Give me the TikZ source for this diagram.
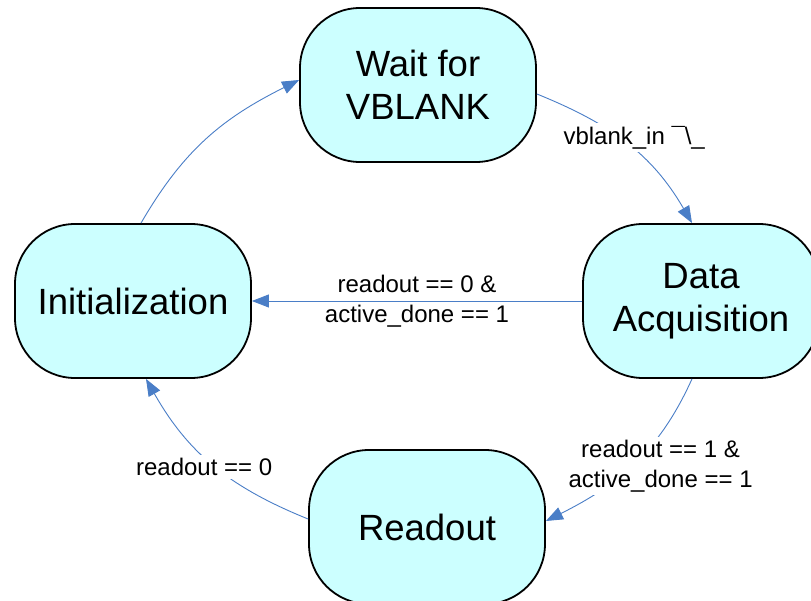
\documentclass[tikz,border=0pt]{standalone}
\usepackage{fontspec}
\setmainfont{Liberation Sans}
\usetikzlibrary{arrows.meta,calc}
\definecolor{statefill}{RGB}{204,255,255}
\definecolor{edgeblue}{RGB}{74,126,199}
\begin{document}
\begin{tikzpicture}[x=1pt,y=-1pt,
  state/.style={draw=black, line width=1.8pt, fill=statefill, rounded corners=60pt,
    minimum width=236pt, minimum height=154pt, align=center, inner sep=0pt,
    font=\fontsize{36.5}{43}\selectfont},
  trans/.style={draw=edgeblue, line width=0.9pt, -{Triangle[length=17pt,width=13pt]}},
  lbl/.style={font=\fontsize{24}{30}\selectfont, align=center, inner sep=3pt},
  lblw/.style={lbl, fill=white}]
\path[use as bounding box, clip] (0,0) rectangle (811,601);
\fill[white] (0,0) rectangle (811,601);

\node[state] (wait) at (418,85) {Wait for\\VBLANK};
\node[state] (data) at (701,301) {Data\\Acquisition};
\node[state] (init) at (133,301) {Initialization};
\node[state] (readout) at (427,527) {Readout};

% Initialization -> Wait for VBLANK
\draw[trans] ($(init.north)+(8,0)$) .. controls +(43,-74) and +(-76,38) .. ($(wait.west)+(0,-5)$);

% Wait -> Data Acquisition
\draw[trans] ($(wait.east)+(0,9)$) .. controls +(74,30) and +(-40,-69) .. ($(data.north)+(-9,0)$)
  node[lblw, pos=0.5, xshift=7pt, yshift=6pt] {vblank\_in ¯\textbackslash\_};

% Data Acquisition -> Initialization
\draw[trans] (data.west) -- (init.east)
  node[lbl, midway] {readout == 0 \&\\active\_done == 1};

% Data Acquisition -> Readout
\draw[trans] ($(data.south)+(-9,0)$) .. controls +(-33,73) and +(72,-36) .. ($(readout.east)+(0,-6)$)
  node[lblw, pos=0.5, xshift=27pt, yshift=-2pt] {readout == 1 \&\\active\_done == 1};

% Readout -> Initialization
\draw[trans] ($(readout.west)+(0,-8)$) .. controls +(-79,-32) and +(42,74) .. ($(init.south)+(13,0)$)
  node[lblw, pos=0.5, xshift=-9pt, yshift=-2pt] {readout == 0};
\end{tikzpicture}
\end{document}
